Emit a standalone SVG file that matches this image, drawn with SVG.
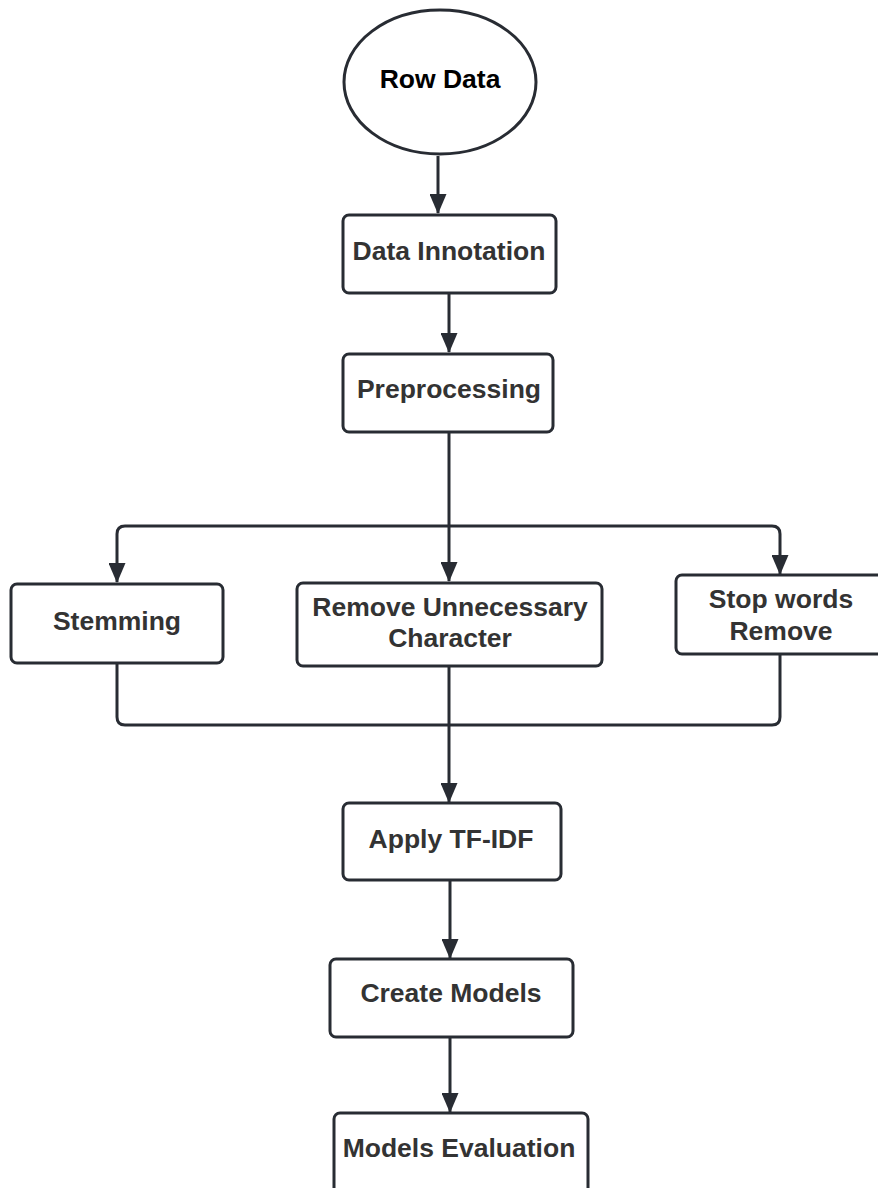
<svg xmlns="http://www.w3.org/2000/svg" width="878" height="1188" viewBox="0 0 878 1188">
<style>
.n{fill:#fff;stroke:#282c33;stroke-width:3}
.t{font-family:"Liberation Sans",Arial,sans-serif;font-weight:bold;font-size:26.5px;fill:#333;text-anchor:middle}
.c{fill:none;stroke:#282c33;stroke-width:3}
</style>
<defs>
<marker id="ah" markerUnits="userSpaceOnUse" markerWidth="17" markerHeight="20" refX="8.5" refY="19" orient="0" viewBox="0 0 17 20">
<path d="M0 0 L17 0 L8.5 20 Z" fill="#282c33"/>
</marker>
</defs>
<rect width="878" height="1188" fill="#fff"/>
<g id="connectors">
<path class="c" d="M438 156 V213" marker-end="url(#ah)"/>
<path class="c" d="M449 294 V352" marker-end="url(#ah)"/>
<path class="c" d="M449 433 V581" marker-end="url(#ah)"/>
<path class="c" d="M449 526 H125 Q117 526 117 534 V582" marker-end="url(#ah)"/>
<path class="c" d="M449 526 H772 Q780 526 780 534 V574" marker-end="url(#ah)"/>
<path class="c" d="M117 664 V717 Q117 725 125 725 H772 Q780 725 780 717 V655"/>
<path class="c" d="M449 667 V802" marker-end="url(#ah)"/>
<path class="c" d="M450 881 V958" marker-end="url(#ah)"/>
<path class="c" d="M450 1038 V1112" marker-end="url(#ah)"/>
</g>
<g id="row-data">
<ellipse class="n" cx="440" cy="82" rx="96" ry="72"/>
<text class="t" x="440" y="88" style="fill:#000">Row Data</text>
</g>
<g id="data-innotation">
<rect class="n" x="343" y="215" width="213" height="78" rx="6"/>
<text class="t" x="449" y="260">Data Innotation</text>
</g>
<g id="preprocessing">
<rect class="n" x="343" y="354" width="210" height="78" rx="6"/>
<text class="t" x="449" y="398">Preprocessing</text>
</g>
<g id="stemming">
<rect class="n" x="11" y="584" width="212" height="79" rx="6"/>
<text class="t" x="117" y="630">Stemming</text>
</g>
<g id="remove-unnecessary">
<rect class="n" x="297" y="583" width="305" height="83" rx="6"/>
<text class="t" x="450" y="616">Remove Unnecessary</text>
<text class="t" x="450" y="647">Character</text>
</g>
<g id="stop-words">
<rect class="n" x="676" y="575" width="210" height="79" rx="6"/>
<text class="t" x="781" y="608">Stop words</text>
<text class="t" x="781" y="640">Remove</text>
</g>
<g id="apply-tfidf">
<rect class="n" x="343" y="803" width="218" height="77" rx="6"/>
<text class="t" x="451" y="848">Apply TF-IDF</text>
</g>
<g id="create-models">
<rect class="n" x="330" y="959" width="243" height="78" rx="6"/>
<text class="t" x="451" y="1002">Create Models</text>
</g>
<g id="models-evaluation">
<rect class="n" x="334" y="1113" width="254" height="90" rx="6"/>
<text class="t" x="459" y="1157">Models Evaluation</text>
</g>
</svg>
